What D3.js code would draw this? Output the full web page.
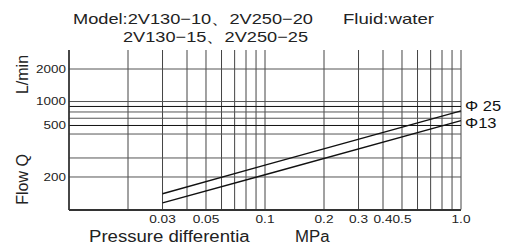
<!DOCTYPE html>
<html>
<head>
<meta charset="utf-8">
<script src="https://cdn.jsdelivr.net/npm/d3@7"></script>
<style>
    body { margin: 0; background: #fff; }
    svg { display: block; font-family: "Liberation Sans", Arial, sans-serif; }
</style>
</head>
<body>
<svg id="chart" width="506" height="252"></svg>
<script>
// pressure differential (MPa) -> flow Q (L/min)
var pressure = [0.03, 0.1, 1.0];
var flowD25 = [140, 258, 820];
var flowD13 = [115, 210, 665];
var seriesNames = ["\u03A6 25", "\u03A613"];

var xGrid = [0.02, 0.03, 0.04, 0.05, 0.06, 0.07, 0.08, 0.09, 0.1, 0.2, 0.3, 0.4, 0.5, 0.6, 0.7, 0.8, 0.9, 1.0];
var xTickValues = [0.03, 0.05, 0.1, 0.2, 0.3, 0.4, 0.5, 1.0];
var xTickLabels = ["0.03", "0.05", "0.1", "0.2", "0.3", "0.4", "0.5", "1.0"];

var yGrid = [200, 300, 500, 600, 700, 800, 900, 1000, 2000];
// the two dark lines the series names sit on
var yDark = [900, 600];
// the source prints "500" beside the 600 line
var yTickValues = [2000, 1000, 600, 200];
var yTickLabels = ["2000", "1000", "500", "200"];

var svg = d3.select("#chart");
var plotLeft = 69, plotRight = 461, plotTop = 50, plotBottom = 209.5;

var x = d3.scaleLog().domain([0.01, 1]).range([plotLeft, plotRight]);
var y = d3.scaleLog().domain([100, 3000]).range([plotBottom, plotTop]);

// widen text like the scanned original
function stretch(sel, k) {
    sel.each(function () {
        var w = this.getComputedTextLength();
        d3.select(this).attr("textLength", w * k).attr("lengthAdjust", "spacingAndGlyphs");
    });
}

var grid = svg.append("g").attr("fill", "none");

grid.selectAll(".vline").data(xGrid).enter().append("line")
    .attr("x1", function (d) { return x(d); })
    .attr("x2", function (d) { return x(d); })
    .attr("y1", plotTop)
    .attr("y2", plotBottom)
    .attr("stroke", "#444")
    .attr("stroke-width", 1);

grid.selectAll(".hline").data(yGrid).enter().append("line")
    .attr("x1", plotLeft)
    .attr("x2", plotRight)
    .attr("y1", function (d) { return y(d); })
    .attr("y2", function (d) { return y(d); })
    .attr("stroke", function (d) { return yDark.indexOf(d) >= 0 ? "#111" : "#555"; })
    .attr("stroke-width", 1);

// axis frame
svg.append("line").attr("x1", plotLeft).attr("x2", plotLeft).attr("y1", plotTop).attr("y2", plotBottom + 0.5)
    .attr("stroke", "#333").attr("stroke-width", 1.8);
svg.append("line").attr("x1", plotLeft).attr("x2", plotRight).attr("y1", plotBottom + 0.5).attr("y2", plotBottom + 0.5)
    .attr("stroke", "#333").attr("stroke-width", 1.8);

var line = d3.line()
    .x(function (d) { return x(d[0]); })
    .y(function (d) { return y(d[1]); });

[flowD25, flowD13].forEach(function (flow) {
    svg.append("path")
        .datum(d3.zip(pressure, flow))
        .attr("d", line)
        .attr("fill", "none")
        .attr("stroke", "#111")
        .attr("stroke-width", 1.4);
});

// series labels beside the dark reference lines
svg.selectAll(".slabel").data(seriesNames).enter().append("text")
    .attr("x", 465)
    .attr("y", function (d, i) { return y(yDark[i]) - [1, 3][i]; })
    .attr("dy", "0.36em")
    .attr("font-size", 15)
    .attr("fill", "#111")
    .text(function (d) { return d; })
    .call(stretch, 1.1);

// x tick labels
svg.selectAll(".xt").data(xTickValues).enter().append("text")
    .attr("x", function (d) { return x(d); })
    .attr("y", 223)
    .attr("text-anchor", "middle")
    .attr("font-size", 10.5)
    .attr("fill", "#222")
    .text(function (d, i) { return xTickLabels[i]; })
    .call(stretch, 1.3);

// y tick labels
svg.selectAll(".yt").data(yTickValues).enter().append("text")
    .attr("x", 66)
    .attr("y", function (d) { return y(d); })
    .attr("dy", "0.36em")
    .attr("text-anchor", "end")
    .attr("font-size", 10.5)
    .attr("fill", "#222")
    .text(function (d, i) { return yTickLabels[i]; })
    .call(stretch, 1.28);

// axis titles
svg.append("text").attr("x", 89).attr("y", 242).attr("font-size", 16).attr("fill", "#222")
    .text("Pressure differentia").call(stretch, 1.16);
svg.append("text").attr("x", 295).attr("y", 242).attr("font-size", 16).attr("fill", "#222")
    .text("MPa").call(stretch, 1.05);

svg.append("text").attr("transform", "translate(28,179.5) rotate(-90)")
    .attr("text-anchor", "middle").attr("font-size", 16).attr("fill", "#222")
    .text("Flow Q");
svg.append("text").attr("transform", "translate(28,74.5) rotate(-90)")
    .attr("text-anchor", "middle").attr("font-size", 16).attr("fill", "#222")
    .text("L/min");

// title
svg.append("text").attr("x", 73).attr("y", 24).attr("font-size", 15).attr("fill", "#222")
    .text("Model:2V130\u221210\u30012V250\u221220")
    .attr("textLength", 240).attr("lengthAdjust", "spacingAndGlyphs");
svg.append("text").attr("x", 343).attr("y", 24).attr("font-size", 15).attr("fill", "#222")
    .text("Fluid:water")
    .attr("textLength", 91).attr("lengthAdjust", "spacingAndGlyphs");
svg.append("text").attr("x", 123).attr("y", 42).attr("font-size", 15).attr("fill", "#222")
    .text("2V130\u221215\u30012V250\u221225")
    .attr("textLength", 185).attr("lengthAdjust", "spacingAndGlyphs");
</script>
</body>
</html>
